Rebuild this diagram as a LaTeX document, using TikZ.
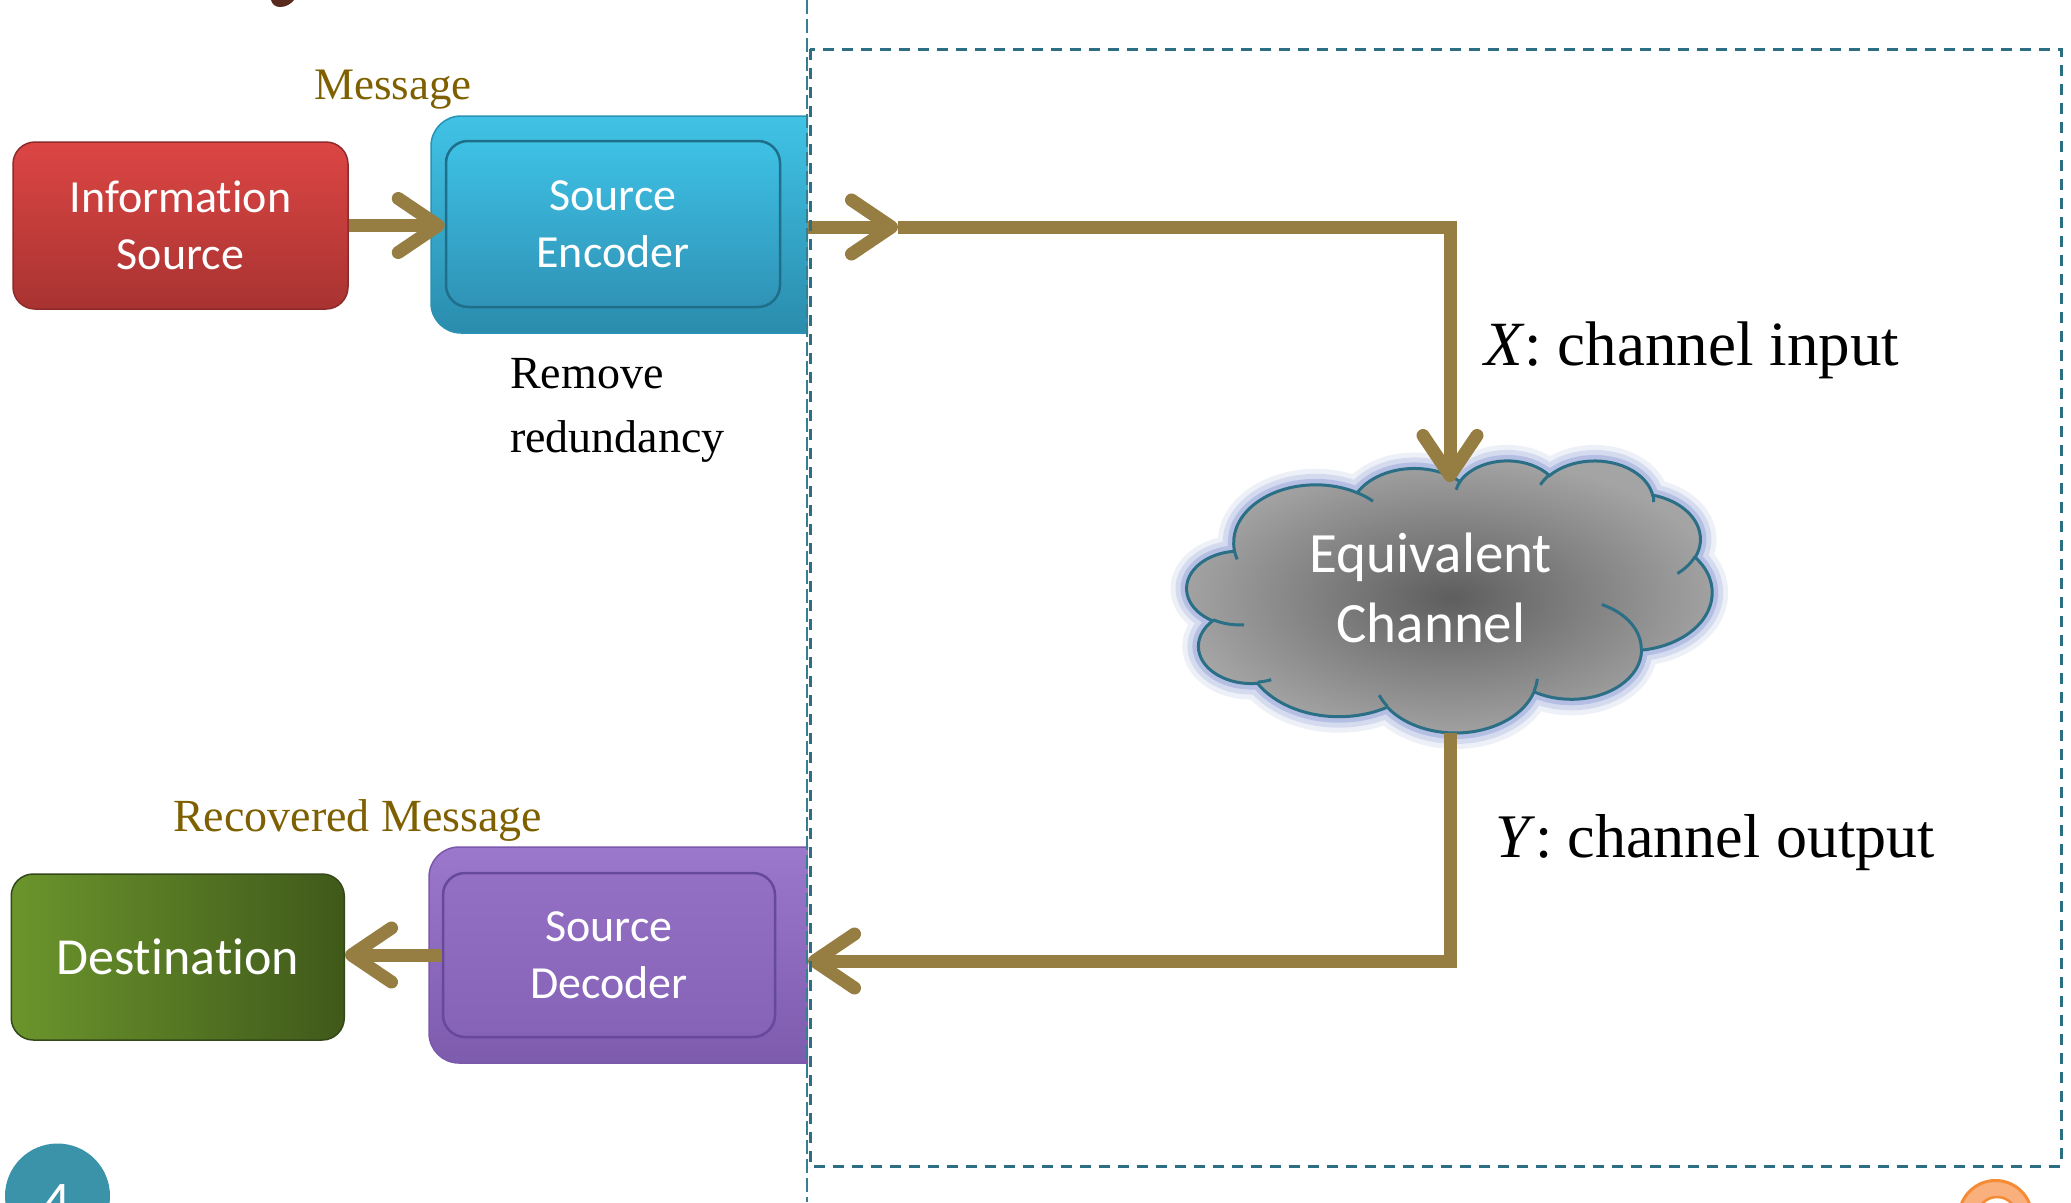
\documentclass[tikz,border=0pt]{standalone}
\usepackage{fontspec}
\setmainfont{Liberation Serif}
\newfontfamily\cfont[Ligatures={NoCommon,NoRare}]{Carlito}
\usetikzlibrary{arrows.meta}
\definecolor{arrowc}{HTML}{967D42}
\definecolor{infotop}{HTML}{DC4644}
\definecolor{infobot}{HTML}{A83331}
\definecolor{infoedge}{HTML}{8E2B2A}
\definecolor{enctop}{HTML}{40C3E6}
\definecolor{encbot}{HTML}{2A8CAD}
\definecolor{encedge}{HTML}{2A92B4}
\definecolor{encintop}{HTML}{3EC1E5}
\definecolor{encinbot}{HTML}{2F93B6}
\definecolor{encinedge}{HTML}{1F6F8A}
\definecolor{dectop}{HTML}{9B78CC}
\definecolor{decbot}{HTML}{7D5BAD}
\definecolor{decedge}{HTML}{7A58AB}
\definecolor{decintop}{HTML}{9470C5}
\definecolor{decinbot}{HTML}{8563B6}
\definecolor{decinedge}{HTML}{66499A}
\definecolor{destleft}{HTML}{6B952C}
\definecolor{destright}{HTML}{40591A}
\definecolor{destedge}{HTML}{34491A}
\definecolor{textgold}{HTML}{7F6000}
\definecolor{dashc}{HTML}{2C6F82}
\definecolor{vlinec}{HTML}{357F91}
\definecolor{cloudedge}{HTML}{2A6F85}
\definecolor{glowc}{HTML}{8E9FD6}
\definecolor{cloudin}{HTML}{5E5E5E}
\definecolor{cloudout}{HTML}{A4A4A4}
\definecolor{slidec}{HTML}{3A93A8}
\definecolor{orangefill}{HTML}{F9B07C}
\definecolor{orangeedge}{HTML}{F58C35}
\definecolor{brownc}{HTML}{5A291D}

\newcommand\ppcalc[4]{%
  \pgfmathparse{atan2((#1)*sin(#3),(#2)*cos(#3))}\xdef\cldA{\pgfmathresult}%
  \pgfmathparse{atan2((#1)*sin((#3)+(#4)),(#2)*cos((#3)+(#4)))}\xdef\cldB{\pgfmathresult}%
  \pgfmathparse{mod((\cldB)-(\cldA)+720,360)}\xdef\cldD{\pgfmathresult}}

\newcommand\cloudmain{(39.00,143.70)
  \foreach \w/\h/\s/\d in {67.53/91.90/-190.4875/123.7805, 53.33/72.67/-144.1024/89.9452,
    43.65/59.45/-145.8079/99.7230, 48.57/65.95/-130.9861/117.2417,
    53.33/72.73/-78.7089/109.0269, 67.75/92.20/-46.2673/130.2690,
    57.85/78.67/0.6250/114.0333, 67.52/92.15/22.4516/115.1726,
    77.20/105.43/66.2426/75.7110, 43.60/59.18/-274.9421/146.7356,
    43.45/59.45/-246.8285/152.5189}
  {\pgfextra{\ppcalc{\w}{\h}{\s}{\d}} arc[start angle=\cldA, delta angle=\cldD, x radius=\w, y radius=\h]} -- cycle}

\newcommand\cloudinner{
  \foreach \px/\py/\w/\h/\s/\d in {46.93/261.77/43.45/59.45/86.742/26.4295,
    69.28/348.99/43.60/59.18/73.6105/11.4475,
    164.78/390.90/67.52/92.15/137.6242/14.0811,
    288.27/347.51/67.52/92.15/6.4533/15.9984,
    341.29/229.54/57.85/78.67/-70.2924/70.9174,
    417.98/153.54/53.33/72.73/30.3180/27.7515,
    383.24/54.26/48.57/65.95/-13.7443/14.8589,
    290.78/39.52/48.57/65.95/-149.1815/18.1954,
    221.41/47.20/43.65/59.45/-163.4943/17.6864,
    140.00/51.92/67.53/91.90/-66.7070/12.3194,
    41.27/157.89/67.53/91.90/157.6544/11.8582}
  {(\px,\py) \pgfextra{\ppcalc{\w}{\h}{\s}{\d}} arc[start angle=\cldA, delta angle=\cldD, x radius=\w, y radius=\h]}}

\begin{document}
\begin{tikzpicture}[x=1pt,y=-1pt,
  >={Straight Barb[length=40pt,width=54pt,round]},
  conn/.style={draw=arrowc, line width=13pt, line join=miter},
  boxtxt/.style={text=white, font=\cfont\fontsize{46}{57}\selectfont, align=center, inner sep=0pt},
  rbox/.style={rounded corners=22pt, line width=1.5pt},
  lbl/.style={inner sep=0pt, font=\fontsize{46}{64}\selectfont, align=left},
  gold/.style={text=textgold, font=\fontsize{45}{56}\selectfont},
  biglbl/.style={inner sep=0pt, font=\fontsize{63}{76}\selectfont, anchor=base west}]

\useasboundingbox (0,0) rectangle (2071,1202);
\fill[white] (0,0) rectangle (2071,1202);

% title fragment
\fill[brownc] (271,0) -- (294,0) .. controls (291,4) and (286,7) .. (280,7) .. controls (275,7) and (272,4) .. cycle;

% left boxes
\node[rbox, boxtxt, draw=infoedge, top color=infotop, bottom color=infobot,
  minimum width=335pt, minimum height=167pt] (info) at (180.5,225.5) {Information\\Source};
\node[rbox, boxtxt, draw=destedge, left color=destleft, right color=destright,
  font=\cfont\fontsize{52}{62}\selectfont,
  minimum width=333pt, minimum height=166pt] (dest) at (177.75,957) {Destination};

\begin{scope}
  \clip (0,0) rectangle (808,1202);
  \node[rounded corners=30pt, draw=encedge, line width=1.5pt, top color=enctop, bottom color=encbot,
    minimum width=449pt, minimum height=217pt, inner sep=0pt] (encout) at (655.5,224.5) {};
  \node[rbox, boxtxt, draw=encinedge, line width=2.5pt, top color=encintop, bottom color=encinbot,
    minimum width=334pt, minimum height=166pt] (encin) at (613,224) {Source\\Encoder};
  \node[rounded corners=30pt, draw=decedge, line width=1.5pt, top color=dectop, bottom color=decbot,
    minimum width=451pt, minimum height=216pt, inner sep=0pt] (decout) at (654.5,955) {};
  \node[rbox, boxtxt, draw=decinedge, line width=2.5pt, top color=decintop, bottom color=decinbot,
    minimum width=332pt, minimum height=164pt] (decin) at (609,955) {Source\\Decoder};
\end{scope}

% labels
\node[gold, inner sep=0pt, anchor=base west] (msg) at (314,99) {Message};
\node[gold, inner sep=0pt, anchor=base west, font=\fontsize{46}{56}\selectfont] (rmsg) at (173,831) {Recovered Message};
\node[lbl, anchor=north west] (rr) at (510,358) {Remove\\redundancy};
\node[biglbl] (xl) at (1484,365) {\textit{X}: channel input};
\node[biglbl, font=\fontsize{62}{76}\selectfont] (yl) at (1495,857) {\textit{Y}: channel output};

% cloud
\begin{scope}[shift={(1187,460)}, xscale=1.2153, yscale=0.6296]
  \path[preaction={draw=glowc, line width=32pt, opacity=.15},
        preaction={draw=glowc, line width=22pt, opacity=.25},
        preaction={draw=glowc, line width=12pt, opacity=.45},
        shading=radial, inner color=cloudin, outer color=cloudout,
        draw=cloudedge, line width=3pt] \cloudmain;
  \draw[cloudedge, line width=3pt] \cloudinner;
\end{scope}
\node[boxtxt, font=\cfont\fontsize{57}{70}\selectfont] (eq) at (1431,588) {Equivalent\\Channel};

% connector coordinates
\coordinate (cutA) at (808,227);
\coordinate (midA) at (898,227);
\coordinate (cloudtop) at (1450,482);
\coordinate (cloudbot) at (1450,733);
\coordinate (cutB) at (808,961);

% connectors
\draw[conn,->] (info.east) -- (info.east -| encin.west);
\draw[conn,->] (decin.west) -- (decin.west -| dest.east);
\draw[conn,->] (cutA) -- (midA);
\draw[conn,->] (midA) -| (cloudtop);
\draw[conn,->] (cloudbot) |- (cutB);

% dashed lines
\draw[vlinec, line width=2.5pt, dash pattern=on 14pt off 5pt] (807,0) -- (807,1202);
\draw[dashc, line width=3pt, dash pattern=on 11pt off 8pt] (810,49) rectangle (2061,1166);

% slide decorations
\fill[slidec] (57.5,1196) circle[radius=52.5pt];
\node[text=white, font=\cfont\fontsize{56}{60}\selectfont, inner sep=0pt, anchor=north] (pnum) at (57,1184) {4};
\draw[orangeedge, fill=orangefill, line width=3pt] (1995.5,1217) circle[radius=36.5pt];
\draw[orangeedge, fill=white, line width=2.5pt] (1997,1217) circle[radius=20pt];
\end{tikzpicture}
\end{document}
